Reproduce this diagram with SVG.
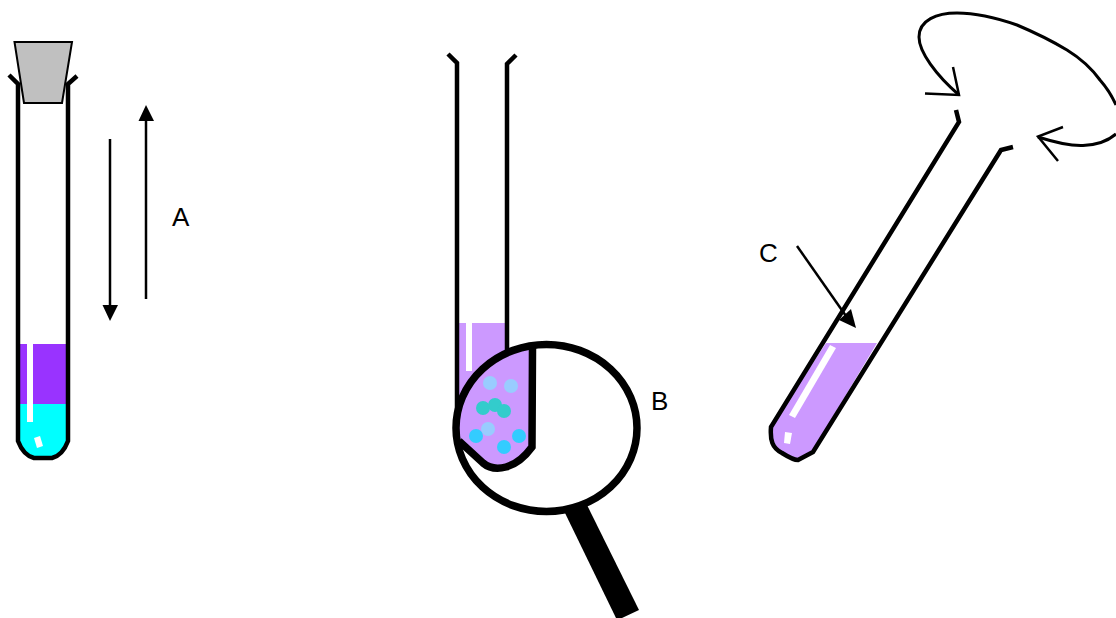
<svg xmlns="http://www.w3.org/2000/svg" width="1116" height="618" viewBox="0 0 1116 618">
<style>
text{font-family:"Liberation Sans",Arial,sans-serif;font-size:26px;fill:#000}
.tube{fill:none;stroke:#000;stroke-width:4.500}
.line{fill:none;stroke:#000;stroke-width:3}
.thin{fill:none;stroke:#000;stroke-width:2.500}
.hl{fill:#fff;stroke:none}
.head{fill:#000;stroke:none}
.lilac{fill:#cc99ff;stroke:none}
</style>
<rect width="1116" height="618" fill="#fff"/>
<g id="tube-a">
<path d="M19 344H67V404H19Z" fill="#9933ff"/>
<path d="M19 404H67V441L60 452L50 458H36L26 452L19 441Z" fill="#00ffff"/>
<path class="tube" d="M9 75L18 84V441C21 449 26 456 34 458H52C60 456 65 449 68 441V84L77 76"/>
<rect class="hl" x="27" y="344" width="6" height="78"/>
<path class="hl" d="M34 438L40 436L43 446L37 448Z"/>
<path d="M14.500 42H72L62 103H24Z" fill="#c0c0c0" stroke="#000" stroke-width="2"/>
</g>
<g id="tube-b">
<path class="lilac" d="M459 323H506V400H459Z"/>
<rect class="hl" x="466" y="323" width="6" height="48"/>
<path class="tube" d="M448 54L457 63V420M516 55L507 64V360"/>
</g>
<g id="magnifier">
<path d="M565 513L587 505L639 610L622 618H616Z" fill="#000"/>
<ellipse cx="546.500" cy="428" rx="90.500" ry="83.500" fill="#fff"/>
<path d="M529 346A90.500 83.500 0 0 0 457 440L485 466H500C512 464 520 455 532 446Z" fill="#cc99ff"/>
<path d="M459 441L483 463C495 473 516 469 532 447L532.500 348" fill="none" stroke="#000" stroke-width="7.500"/>
<ellipse cx="546.500" cy="428" rx="90.500" ry="83.500" fill="none" stroke="#000" stroke-width="7.500"/>
<circle cx="490" cy="383" r="7" fill="#99ccff"/>
<circle cx="511" cy="386" r="7" fill="#99ccff"/>
<circle cx="483" cy="408" r="7" fill="#33cccc"/>
<circle cx="495" cy="405" r="7" fill="#33cccc"/>
<circle cx="504" cy="411" r="7" fill="#33cccc"/>
<circle cx="488" cy="429" r="7" fill="#99ccff"/>
<circle cx="476" cy="436" r="7" fill="#33ccff"/>
<circle cx="504" cy="447" r="7" fill="#33ccff"/>
<circle cx="519" cy="436" r="7" fill="#33ccff"/>
</g>
<g id="tube-c">
<path class="lilac" d="M826 343H877L813 450L798 459H790L774 448L771 427Z"/>
<path class="hl" d="M830 345L836 348L795 418L789 415Z"/>
<path class="hl" d="M785 432L792 433L790 444L784 443Z"/>
<path class="tube" d="M956 110L959 122L771 427C770 440 772 448 782 453C790 458 795 460 798 460L813 452L1001 150L1013 147"/>
</g>
<g id="connectors">
<path class="thin" d="M110 139V306"/>
<path class="head" d="M102.500 305H118L110 321Z"/>
<path class="thin" d="M146 299V120"/>
<path class="head" d="M138.500 121H154L146 105Z"/>
<path class="thin" d="M797 246L846 316"/>
<path class="head" d="M839 320L851 309L856 328Z"/>
<path class="line" d="M959 95C936 75 919 52 919 37C919 20 937 13 957 13C976 13 997 18 1017 25C1036 33 1052 41 1067 50C1080 58 1092 69 1100 80C1107 88 1112 96 1116 105"/>
<path class="thin" d="M953 67L959 95L925 93.500"/>
<path class="line" d="M1038 137C1060 144 1072 146 1083 145.500C1098 145 1108 141 1116 134"/>
<path class="thin" d="M1063 127L1038 136.500L1058 161"/>
</g>
<g id="labels">
<text x="172" y="226">A</text>
<text x="651" y="410">B</text>
<text x="759" y="262">C</text>
</g>
</svg>
